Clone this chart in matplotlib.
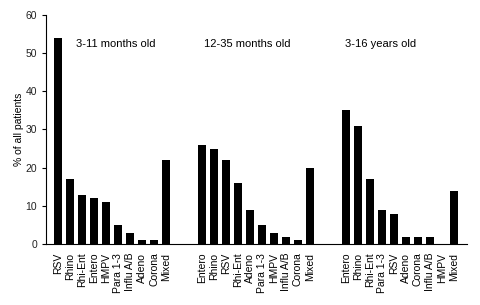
import numpy as np
import matplotlib
matplotlib.use("Agg")
import matplotlib.pyplot as plt

plt.rcParams['font.family'] = ['Liberation Sans', 'DejaVu Sans']

# three age groups, viruses sorted by frequency inside each group
infant_labels = ["RSV", "Rhino", "Rhi-Ent", "Entero", "HMPV", "Para 1-3",
                 "Influ A/B", "Adeno", "Corona", "Mixed"]
infant_values = [54, 17, 13, 12, 11, 5, 3, 1, 1, 22]

toddler_labels = ["Entero", "Rhino", "RSV", "Rhi-Ent", "Adeno", "Para 1-3",
                  "HMPV", "Influ A/B", "Corona", "Mixed"]
toddler_values = [26, 25, 22, 16, 9, 5, 3, 2, 1, 20]

child_labels = ["Entero", "Rhino", "Rhi-Ent", "Para 1-3", "RSV", "Adeno",
                "Corona", "Influ A/B", "HMPV", "Mixed"]
child_values = [35, 31, 17, 9, 8, 2, 2, 2, 0, 14]

group_titles = ["3-11 months old", "12-35 months old", "3-16 years old"]

groups = [(infant_labels, infant_values),
          (toddler_labels, toddler_values),
          (child_labels, child_values)]

fig = plt.figure(figsize=(4.8, 3.05), dpi=100)
ax = fig.add_axes([0.096, 0.199, 0.877, 0.753])

positions = []
labels = []
for g, (labs, vals) in enumerate(groups):
    x = np.arange(len(labs)) + g * 12
    ax.bar(x, vals, width=0.68, color="black")
    positions.extend(x)
    labels.extend(labs)

title_x = [4.8, 15.8, 26.9]
for tx, title in zip(title_x, group_titles):
    ax.text(tx, 52.3, title, ha="center", va="center", fontsize=8)

ax.set_xticks(positions)
ax.set_xticklabels(labels, rotation=90, fontsize=7.5)
ax.tick_params(axis="x", length=0, pad=6)
ax.set_xlim(-1, 34.1)

ax.set_ylim(0, 60)
ax.set_yticks(range(0, 61, 10))
ax.tick_params(axis="y", labelsize=7.5, length=3, labelcolor="#222222")
ax.set_ylabel("% of all patients", fontsize=7.5, labelpad=1)

ax.spines["top"].set_visible(False)
ax.spines["right"].set_visible(False)

fig.savefig("out.png", dpi=100)
